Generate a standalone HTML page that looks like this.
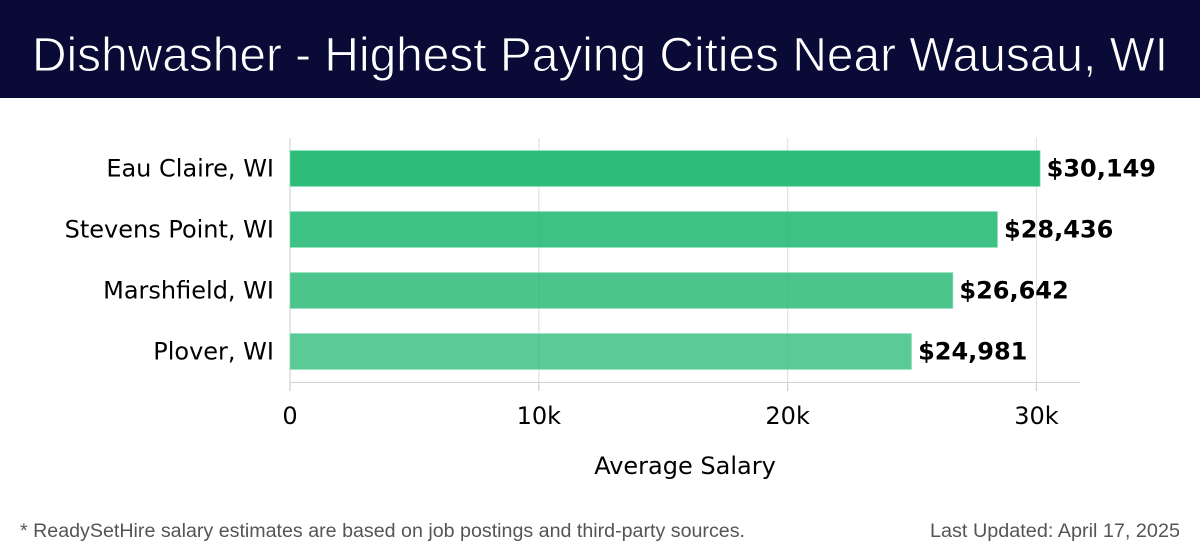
<!DOCTYPE html>
<html lang="en">
<head>
<meta charset="utf-8">
<title>Dishwasher - Highest Paying Cities Near Wausau, WI</title>
<style>
html,body{margin:0;padding:0;background:#fff;width:1200px;height:558px;overflow:hidden}
svg{display:block}
.tick{font:24px "DejaVu Sans",sans-serif;fill:#000}
.val{font:bold 24px "DejaVu Sans",sans-serif;fill:#000}
</style>
</head>
<body>
<svg id="chart" width="1200" height="558" viewBox="0 0 1200 558" xmlns="http://www.w3.org/2000/svg">
  <rect x="0" y="0" width="1200" height="98" fill="#0a0a36"/>
  <text x="32" y="71" font-family="'Liberation Sans',sans-serif" font-size="48" fill="#fff" stroke="#0a0a36" stroke-width="0.9" textLength="1136" lengthAdjust="spacingAndGlyphs">Dishwasher - Highest Paying Cities Near Wausau, WI</text>
  <g id="grid"></g>
  <g id="bars"></g>
  <g id="axes"></g>
  <text x="685" y="474" text-anchor="middle" font-family="'DejaVu Sans',sans-serif" font-size="24" fill="#000">Average Salary</text>
  <text x="20" y="537" font-family="'Liberation Sans',sans-serif" font-size="19" fill="#555" textLength="725" lengthAdjust="spacingAndGlyphs">* ReadySetHire salary estimates are based on job postings and third-party sources.</text>
  <text x="930" y="537" font-family="'Liberation Sans',sans-serif" font-size="19" fill="#555" textLength="250" lengthAdjust="spacingAndGlyphs">Last Updated: April 17, 2025</text>
</svg>
<script>
const cities = ["Eau Claire, WI", "Stevens Point, WI", "Marshfield, WI", "Plover, WI"];
const salaries = [30149, 28436, 26642, 24981];
const salaryLabels = ["$30,149", "$28,436", "$26,642", "$24,981"];
const tickValues = [0, 10000, 20000, 30000];
const tickLabels = ["0", "10k", "20k", "30k"];

const NS = "http://www.w3.org/2000/svg";
const plotLeft = 290, plotRight = 1080, plotTop = 138, plotBottom = 382;
const domainMax = 31750;
const rowStart = 138, rowStep = 61, barHeight = 36;
function xScale(v){ return plotLeft + v * (plotRight - plotLeft) / domainMax; }
function yBand(i){ return rowStart + rowStep * i + (rowStep - barHeight) / 2; }
function make(tag, attrs, parent){
  const el = document.createElementNS(NS, tag);
  for (const k in attrs) el.setAttribute(k, attrs[k]);
  parent.appendChild(el);
  return el;
}
const grid = document.getElementById('grid');
const bars = document.getElementById('bars');
const axes = document.getElementById('axes');

tickValues.forEach(function(v, i){
  const x = xScale(v);
  const line = make('line', {x1:x, x2:x, y1:plotTop, y2:plotBottom, stroke: i === 0 ? '#d4d4d4' : '#e2e2e2', 'stroke-width':1.2}, grid);
  
  
  const tick = make('line', {x1:x, x2:x, y1:plotBottom, y2:plotBottom + 9, stroke:'#cfcfcf', 'stroke-width':1.2}, axes);
  
  
  const label = make('text', {x:x, y:424, 'text-anchor':'middle', class:'tick'}, axes);
  label.textContent = tickLabels[i];
  
  
});

const axisLine = make('line', {x1:plotLeft, x2:plotRight, y1:plotBottom + 0.5, y2:plotBottom + 0.5, stroke:'#d2d2d2', 'stroke-width':1}, axes);



salaries.forEach(function(v, i){
  const y = yBand(i);
  const w = xScale(v) - plotLeft;
  const bar = make('rect', {x:plotLeft, y:y, width:w, height:barHeight, fill:'#22b873', 'fill-opacity':0.95 - i * 0.07, stroke:'#8fe6bf', 'stroke-opacity':0.55, 'stroke-width':1}, bars);
  
  
  const val = make('text', {x:xScale(v) + 6.5, y:y + 26, class:'val'}, bars);
  val.textContent = salaryLabels[i];
  
  
  const cat = make('text', {x:plotLeft - 16, y:y + 26, 'text-anchor':'end', class:'tick'}, axes);
  cat.textContent = cities[i];
  
  
});
</script>
</body>
</html>
